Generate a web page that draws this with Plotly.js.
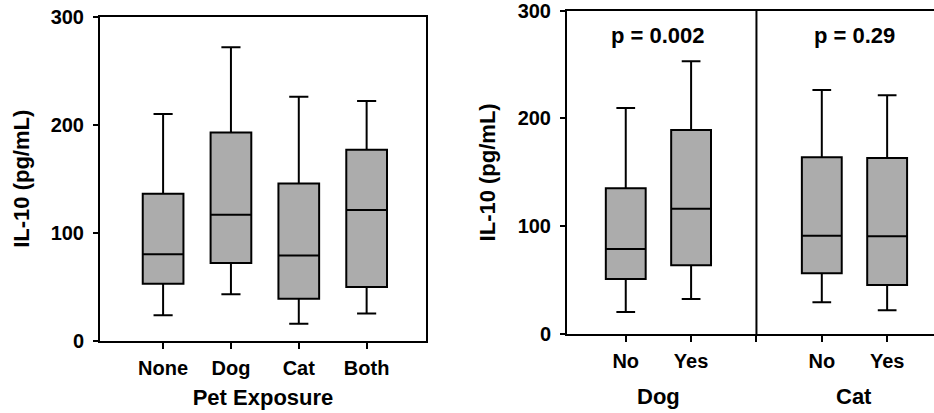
<!DOCTYPE html>
<html>
<head>
<meta charset="utf-8">
<script src="https://cdn.plot.ly/plotly-3.0.1.min.js"></script>
<style>html,body{margin:0;padding:0;background:#fff;}#chart{width:934px;height:413px;}</style>
</head>
<body>
<div id="chart"></div>
<script>
// Left panel: IL-10 by pet exposure
const petCats = ["None", "Dog", "Cat", "Both"];
const petLow = [23.5, 43, 15.5, 25];
const petQ1 = [52.6, 71.8, 38.7, 49.5];
const petMed = [80, 116.6, 78.9, 121];
const petQ3 = [136, 193, 145.6, 177];
const petHigh = [210, 272, 226, 222];

// Right panel: No/Yes for Dog and Cat
const grpPos = [1, 2, 4, 5];
const grpLabels = ["No", "Yes", "No", "Yes"];
const grpLow = [20.4, 32.5, 29.4, 22];
const grpQ1 = [51, 63.7, 56.3, 45.5];
const grpMed = [78.9, 116.3, 91.2, 90.6];
const grpQ3 = [135.2, 189.3, 164, 163.3];
const grpHigh = [209.7, 253, 226.4, 221.5];
const groupNames = ["Dog", "Cat"];
const groupCenters = [1.5, 4.5];
const pTexts = ["p = 0.002", "p = 0.29"];

const FONT = "Liberation Sans, Arial, sans-serif";
const fill = "#acacac";

const boxStyle = {
  type: "box",
  fillcolor: fill,
  line: {color: "#000", width: 2},
  whiskerwidth: 0.47,
  boxpoints: false,
  hoverinfo: "skip",
  showlegend: false
};

const traces = [
  Object.assign({}, boxStyle, {
    x: petCats, q1: petQ1, median: petMed, q3: petQ3,
    lowerfence: petLow, upperfence: petHigh,
    width: 0.6, xaxis: "x", yaxis: "y"
  }),
  Object.assign({}, boxStyle, {
    x: grpPos, q1: grpQ1, median: grpMed, q3: grpQ3,
    lowerfence: grpLow, upperfence: grpHigh,
    width: 0.61, xaxis: "x2", yaxis: "y2"
  })
];

const tickFont = {family: FONT, size: 20, color: "#000", weight: "bold"};
const titleFont = {family: FONT, size: 22, color: "#000", weight: "bold"};

const annotations = [];
groupNames.forEach((g, i) => {
  annotations.push({
    xref: "x2", yref: "paper", x: groupCenters[i], y: (413 - 396) / 413,
    text: g, showarrow: false, font: titleFont, xanchor: "center", yanchor: "middle"
  });
  annotations.push({
    xref: "x2", yref: "y2", x: groupCenters[i], y: 277,
    text: pTexts[i], showarrow: false, font: titleFont, xanchor: "center", yanchor: "middle"
  });
});

const layout = {
  width: 934, height: 413,
  margin: {l: 0, r: 0, t: 0, b: 0},
  paper_bgcolor: "#fff", plot_bgcolor: "#fff",
  font: {family: FONT, color: "#000"},
  xaxis: {
    domain: [100 / 934, 426 / 934],
    type: "category",
    range: [-0.93, 3.875],
    showline: true, linecolor: "#000", linewidth: 2, mirror: true,
    ticks: "outside", ticklen: 6, tickwidth: 2, tickcolor: "#000",
    ticklabelstandoff: 2,
    showgrid: false, zeroline: false,
    tickfont: tickFont,
    title: {text: "Pet Exposure", font: titleFont, standoff: 12},
    anchor: "y"
  },
  yaxis: {
    domain: [(413 - 340.5) / 413, (413 - 17) / 413],
    range: [0, 300],
    tickvals: [0, 100, 200, 300],
    showline: true, linecolor: "#000", linewidth: 2, mirror: true,
    ticks: "outside", ticklen: 5, tickwidth: 2, tickcolor: "#000",
    ticklabelstandoff: 5, ticklabeloverflow: "allow",
    showgrid: false, zeroline: false,
    tickfont: tickFont,
    title: {text: "IL-10 (pg/mL)", font: titleFont, standoff: 15},
    anchor: "x"
  },
  xaxis2: {
    domain: [567 / 934, 1],
    range: [0.101, 5.717],
    tickvals: grpPos.concat([3]),
    ticktext: grpLabels.concat([""]),
    showline: true, linecolor: "#000", linewidth: 2, mirror: true,
    ticks: "outside", ticklen: 6, tickwidth: 2, tickcolor: "#000",
    ticklabelstandoff: 2,
    showgrid: false, zeroline: false,
    tickfont: tickFont,
    anchor: "y2"
  },
  yaxis2: {
    domain: [(413 - 334) / 413, (413 - 10.7) / 413],
    range: [0, 300],
    tickvals: [0, 100, 200, 300],
    showline: true, linecolor: "#000", linewidth: 2, mirror: false,
    ticks: "outside", ticklen: 5, tickwidth: 2, tickcolor: "#000",
    ticklabelstandoff: 5, ticklabeloverflow: "allow",
    showgrid: false, zeroline: false,
    tickfont: tickFont,
    title: {text: "IL-10 (pg/mL)", font: titleFont, standoff: 16},
    anchor: "x2"
  },
  shapes: [{
    type: "line", xref: "x2", yref: "y2", x0: 3, x1: 3, y0: 0, y1: 300,
    line: {color: "#000", width: 2}
  }],
  annotations: annotations
};

Plotly.newPlot("chart", traces, layout, {displayModeBar: false, staticPlot: true});
</script>
</body>
</html>
